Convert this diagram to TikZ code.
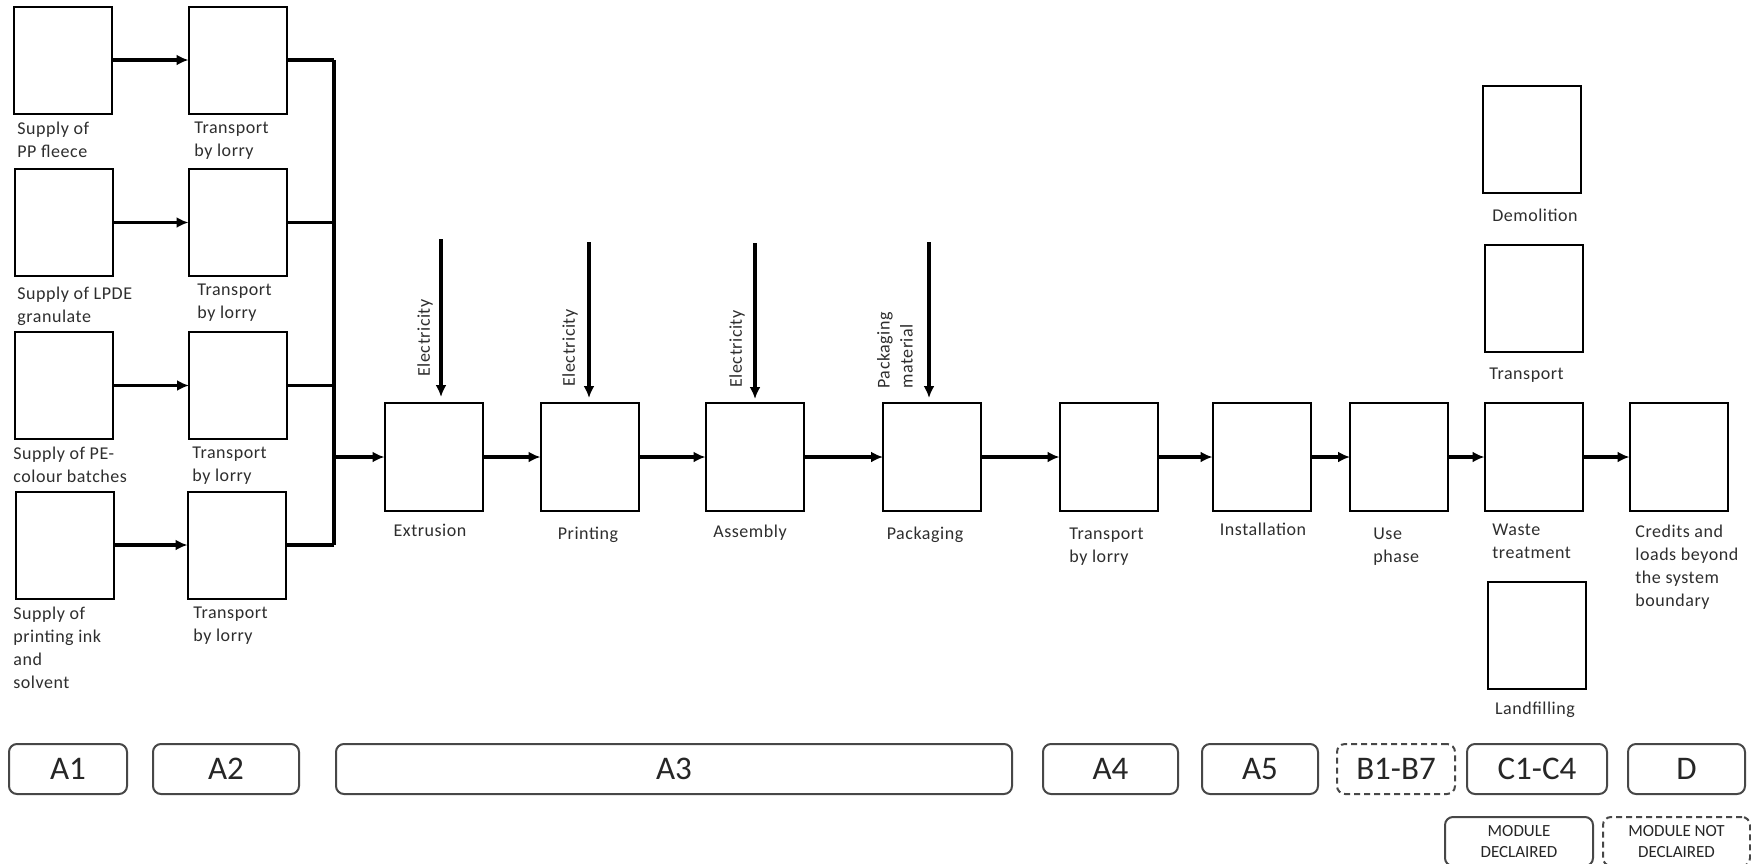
\documentclass[tikz,border=0pt]{standalone}
\usepackage{fontspec}
\setmainfont{Carlito}
\newfontfamily\lblfont[LetterSpace=3]{Carlito}
\usetikzlibrary{arrows.meta}
\begin{document}
\begin{tikzpicture}[x=0.5pt,y=-0.5pt,
  box/.style={draw=black, line width=1pt, minimum width=49pt, minimum height=53.5pt, inner sep=0pt, outer sep=0pt},
  mbox/.style={box, minimum height=54pt},
  lbl/.style={font=\lblfont\fontsize{9}{11.5}\selectfont, text=black!82, inner sep=0pt, align=left, anchor=north west},
  clbl/.style={lbl, anchor=north, align=center},
  rlbl/.style={lbl, rotate=90, anchor=west, align=left},
  arr/.style={line width=1.6pt, -{Latex[length=6pt,width=5.5pt]}},
  ln/.style={line width=1.6pt},
  busln/.style={line width=2pt},
  mod/.style={draw=black!72, line width=1pt, rounded corners=4pt, minimum height=25pt, inner sep=0pt,
    font=\fontsize{16.5}{18}\selectfont, text=black!85},
  modsm/.style={mod, minimum height=24.5pt, font=\fontsize{8.5}{10.5}\selectfont, align=center},
  notdecl/.style={dash pattern=on 3pt off 2pt}
]
\clip (0,0) rectangle (1751,863);
\fill[white] (0,0) rectangle (1751,863);

% left columns
\node[box] (s1) at (63,60) {};
\node[box] (t1) at (237.5,60) {};
\node[box] (s2) at (63.5,222.5) {};
\node[box] (t2) at (237.5,222.5) {};
\node[box] (s3) at (63.5,385.5) {};
\node[box] (t3) at (238,385.5) {};
\node[box] (s4) at (64.5,545) {};
\node[box] (t4) at (236.5,545) {};

\node[lbl] (ls1) at (17,122) {Supply of\\PP fleece};
\node[lbl] (lt1) at (194,122) {Transport\\by lorry};
\node[lbl] (ls2) at (17,287) {Supply of LPDE\\granulate};
\node[lbl] (lt2) at (197,284) {Transport\\by lorry};
\node[lbl] (ls3) at (13,447) {Supply of PE-\\colour batches};
\node[lbl] (lt3) at (192,447) {Transport\\by lorry};
\node[lbl] (ls4) at (13,607) {Supply of\\printing ink\\and\\solvent};
\node[lbl] (lt4) at (193,607) {Transport\\by lorry};

\draw[arr] (s1.east) -- (t1.west);
\draw[arr] (s2.east) -- (t2.west);
\draw[arr] (s3.east) -- (t3.west);
\draw[arr] (s4.east) -- (t4.west);

% collecting bus
\coordinate (bustop) at (334,60);
\coordinate (busbot) at (334,545);
\draw[ln] (t1.east) -- (t1.east -| bustop);
\draw[ln] (t2.east) -- (t2.east -| bustop);
\draw[ln] (t3.east) -- (t3.east -| bustop);
\draw[ln] (t4.east) -- (t4.east -| bustop);
\draw[busln] (bustop) -- (busbot);

% main row
\node[mbox] (ext) at (433.5,457) {};
\node[mbox] (prt) at (589.5,457) {};
\node[mbox] (asm) at (754.5,457) {};
\node[mbox] (pkg) at (932,457) {};
\node[mbox] (ta4) at (1108.5,457) {};
\node[mbox] (ins) at (1261.5,457) {};
\node[mbox] (use) at (1399,457) {};
\node[mbox] (wst) at (1533.5,457) {};
\node[mbox] (dd) at (1678.5,457) {};

\draw[arr] (bustop |- ext.west) -- (ext.west);
\draw[arr] (ext.east) -- (prt.west);
\draw[arr] (prt.east) -- (asm.west);
\draw[arr] (asm.east) -- (pkg.west);
\draw[arr] (pkg.east) -- (ta4.west);
\draw[arr] (ta4.east) -- (ins.west);
\draw[arr] (ins.east) -- (use.west);
\draw[arr] (use.east) -- (wst.west);
\draw[arr] (wst.east) -- (dd.west);

% C column
\node[box] (dem) at (1531.5,139.5) {};
\node[box] (trc) at (1533.5,298.5) {};
\node[box] (lnd) at (1536.5,635.5) {};

% inputs
\coordinate (in1) at (441,239);
\coordinate (in2) at (589,242);
\coordinate (in3) at (755,243);
\coordinate (in4) at (929,242);
\draw[arr, shorten >=3pt] (in1) -- (in1 |- ext.north);
\draw[arr, shorten >=2.5pt] (in2) -- (in2 |- prt.north);
\draw[arr, shorten >=2pt] (in3) -- (in3 |- asm.north);
\draw[arr, shorten >=2.5pt] (in4) -- (in4 |- pkg.north);
\node[rlbl] (le1) at (425,377) {Electricity};
\node[rlbl] (le2) at (570,387) {Electricity};
\node[rlbl] (le3) at (737,388) {Electricity};
\node[rlbl] (le4) at (895,389) {Packaging\\material};

% box labels
\node[clbl] (lext) at (430,524) {Extrusion};
\node[clbl] (lprt) at (588,527) {Printing};
\node[clbl] (lasm) at (750,525) {Assembly};
\node[clbl] (lpkg) at (925,527) {Packaging};
\node[lbl] (lta4) at (1069,528) {Transport\\by lorry};
\node[clbl] (lins) at (1263,523) {Installation};
\node[lbl] (luse) at (1373,528) {Use\\phase};
\node[lbl] (lwst) at (1492,524) {Waste\\treatment};
\node[lbl] (ldd) at (1635,525) {Credits and\\loads beyond\\the system\\boundary};
\node[clbl] (ldem) at (1535,209) {Demolition};
\node[lbl] (ltrc) at (1489,368) {Transport};
\node[clbl] (llnd) at (1535,702) {Landfilling};

% module bar
\node[mod, minimum width=59pt] (mA1) at (68,769) {A1};
\node[mod, minimum width=73pt] (mA2) at (226,769) {A2};
\node[mod, minimum width=338pt] (mA3) at (674,769) {A3};
\node[mod, minimum width=67.5pt] (mA4) at (1110.5,769) {A4};
\node[mod, minimum width=58pt] (mA5) at (1260,769) {A5};
\node[mod, notdecl, minimum width=59pt] (mB) at (1396,769) {B1-B7};
\node[mod, minimum width=70pt] (mC) at (1537,769) {C1-C4};
\node[mod, minimum width=58.5pt] (mD) at (1686.5,769) {D};

\node[modsm, minimum width=74pt] (kdecl) at (1519,841.5) {MODULE\\DECLAIRED};
\node[modsm, notdecl, minimum width=73.5pt] (knot) at (1676.5,841.5) {MODULE NOT\\DECLAIRED};
\end{tikzpicture}
\end{document}
